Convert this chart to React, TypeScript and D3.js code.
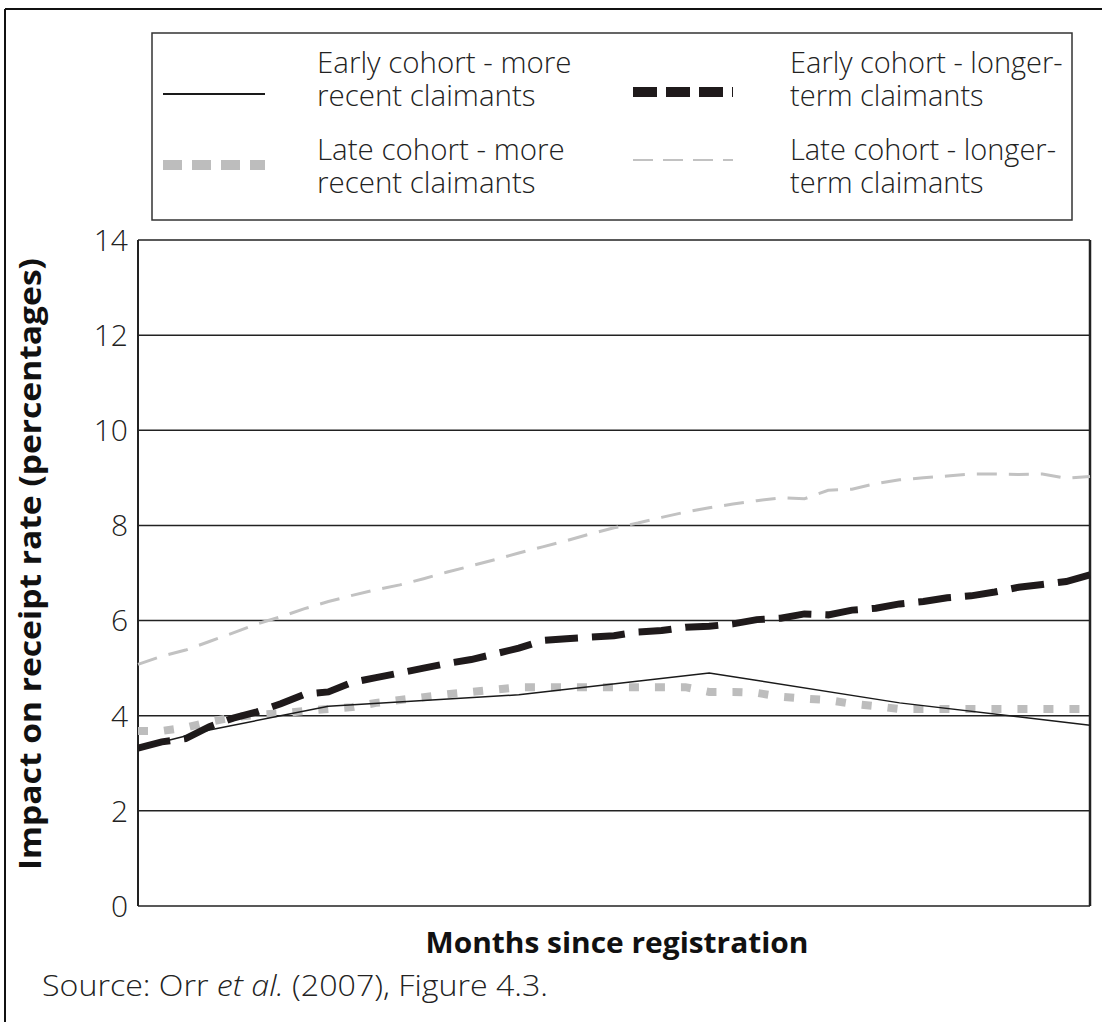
import React from "react";
import * as d3 from "d3";

const monthsAll = [0,1,2,3,4,5,6,7,8,9,10,11,12,13,14,15,16,17,18,19,20,21,22,23,24,25,26,27,28,29,30,31,32,33,34,35,36,37,38,39,40];
const earlyRecentMonths = [0, 3, 8, 16, 24, 32, 40];
const earlyRecent = [3.32, 3.7, 4.2, 4.44, 4.9, 4.27, 3.8];
const earlyLonger = [3.32,3.45,3.52,3.77,3.95,4.08,4.25,4.45,4.5,4.7,4.8,4.9,5.0,5.1,5.18,5.3,5.42,5.58,5.62,5.65,5.68,5.76,5.79,5.86,5.88,5.93,6.02,6.05,6.14,6.12,6.22,6.26,6.35,6.4,6.48,6.52,6.6,6.7,6.76,6.82,6.96];
const lateRecent = [3.68,3.68,3.75,3.87,3.97,4.02,4.05,4.1,4.14,4.18,4.27,4.33,4.39,4.45,4.5,4.55,4.6,4.6,4.6,4.6,4.6,4.6,4.6,4.6,4.5,4.5,4.48,4.4,4.36,4.33,4.25,4.2,4.14,4.14,4.14,4.14,4.14,4.14,4.14,4.14,4.14];
const lateLonger = [5.08,5.25,5.38,5.56,5.74,5.93,6.08,6.25,6.4,6.53,6.65,6.75,6.88,7.02,7.15,7.28,7.42,7.55,7.68,7.82,7.95,8.05,8.17,8.28,8.37,8.45,8.52,8.58,8.56,8.74,8.76,8.88,8.96,9.0,9.04,9.08,9.08,9.07,9.08,8.99,9.03];
const yTicks = [0, 2, 4, 6, 8, 10, 12, 14];

const legendLeft = [
  { lines: ["Early cohort - more", "recent claimants"], key: "er" },
  { lines: ["Late cohort - more", "recent claimants"], key: "lr" },
];
const legendRight = [
  { lines: ["Early cohort - longer-", "term claimants"], key: "el" },
  { lines: ["Late cohort - longer-", "term claimants"], key: "ll" },
];

const FONT = "'Open Sans', 'DejaVu Sans', sans-serif";

export default function App() {
  const W = 1102, H = 1022;
  const x = d3.scaleLinear().domain([0, 40]).range([138, 1090]);
  const y = d3.scaleLinear().domain([0, 14]).range([906, 240]);
  const line = d3.line<[number, number]>().x(d => x(d[0])).y(d => y(d[1]));

  const pts = (ms: number[], vs: number[]) => ms.map((m, i) => [m, vs[i]] as [number, number]);

  const styles: Record<string, any> = {
    er: { stroke: "#1a1a1a", strokeWidth: 1.5 },
    el: { stroke: "#1f1a1b", strokeWidth: 7, strokeDasharray: "33 14" },
    lr: { stroke: "#bdbdbd", strokeWidth: 8, strokeDasharray: "10 16" },
    ll: { stroke: "#c2c2c2", strokeWidth: 3, strokeDasharray: "20 12" },
  };
  const legendStyles: Record<string, any> = {
    er: { stroke: "#1a1a1a", strokeWidth: 2 },
    el: { stroke: "#1f1a1b", strokeWidth: 10, strokeDasharray: "24 9" },
    lr: { stroke: "#bdbdbd", strokeWidth: 10, strokeDasharray: "19 10" },
    ll: { stroke: "#c2c2c2", strokeWidth: 2, strokeDasharray: "20 10" },
  };

  const sampleLeftY = [94, 165];
  const sampleRightY = [92, 160];
  const textTopBase = [73, 160];

  return (
    <div style={{ position: "absolute", left: 0, top: 0 }}>
      <svg width={W} height={H} style={{ display: "block", background: "#fff" }}>
        {/* outer frame */}
        <line x1={5} y1={9} x2={W + 5} y2={9} stroke="#111" strokeWidth={2} />
        <line x1={5} y1={9} x2={5} y2={H + 5} stroke="#111" strokeWidth={2} />

        {/* legend */}
        <rect x={152} y={33} width={920} height={187} fill="none" stroke="#333" strokeWidth={1.5} />
        {legendLeft.map((it, i) => (
          <g key={it.key}>
            <line x1={163} x2={265} y1={sampleLeftY[i]} y2={sampleLeftY[i]} fill="none" {...legendStyles[it.key]} />
            <text x={317} y={textTopBase[i]} fontFamily={FONT} fontWeight={300} fontSize={29.5} fill="#222">
              {it.lines.map((t, j) => (
                <tspan key={j} x={317} dy={j === 0 ? 0 : 33}>{t}</tspan>
              ))}
            </text>
          </g>
        ))}
        {legendRight.map((it, i) => (
          <g key={it.key}>
            <line x1={633} x2={733} y1={sampleRightY[i]} y2={sampleRightY[i]} fill="none" {...legendStyles[it.key]} />
            <text x={790} y={textTopBase[i]} fontFamily={FONT} fontWeight={300} fontSize={29} fill="#222">
              {it.lines.map((t, j) => (
                <tspan key={j} x={790} dy={j === 0 ? 0 : 33}>{t}</tspan>
              ))}
            </text>
          </g>
        ))}

        {/* grid */}
        {yTicks.map(t => (
          <g key={t}>
            <line x1={138} x2={1090} y1={y(t)} y2={y(t)} stroke="#222" strokeWidth={1.5} />
            <text x={128} y={y(t)} dy="0.36em" textAnchor="end" fontFamily={FONT} fontWeight={300} fontSize={30} fill="#222">{t}</text>
          </g>
        ))}
        <line x1={138} x2={138} y1={y(14)} y2={y(0)} stroke="#222" strokeWidth={2} />
        <line x1={1090} x2={1090} y1={y(14)} y2={y(0)} stroke="#222" strokeWidth={2.5} />

        {/* series */}
        <path d={line(pts(monthsAll, lateLonger)) || ""} fill="none" {...styles.ll} />
        <path d={line(pts(monthsAll, lateRecent)) || ""} fill="none" {...styles.lr} />
        <path d={line(pts(monthsAll, earlyLonger)) || ""} fill="none" {...styles.el} />
        <path d={line(pts(earlyRecentMonths, earlyRecent)) || ""} fill="none" {...styles.er} />

        {/* axis titles */}
        <text transform="translate(41, 564) rotate(-90)" textAnchor="middle" fontFamily={FONT} fontWeight={700} fontSize={30} textLength={612} lengthAdjust="spacingAndGlyphs" fill="#111">Impact on receipt rate (percentages)</text>
        <text x={617} y={953} textAnchor="middle" fontFamily={FONT} fontWeight={700} fontSize={29} textLength={383} lengthAdjust="spacingAndGlyphs" fill="#111">Months since registration</text>

        {/* source */}
        <text x={42} y={996} fontFamily={FONT} fontWeight={300} fontSize={30} textLength={506} lengthAdjust="spacingAndGlyphs" fill="#222">
          Source: Orr <tspan fontStyle="italic">et al.</tspan> (2007), Figure 4.3.
        </text>
      </svg>
    </div>
  );
}
